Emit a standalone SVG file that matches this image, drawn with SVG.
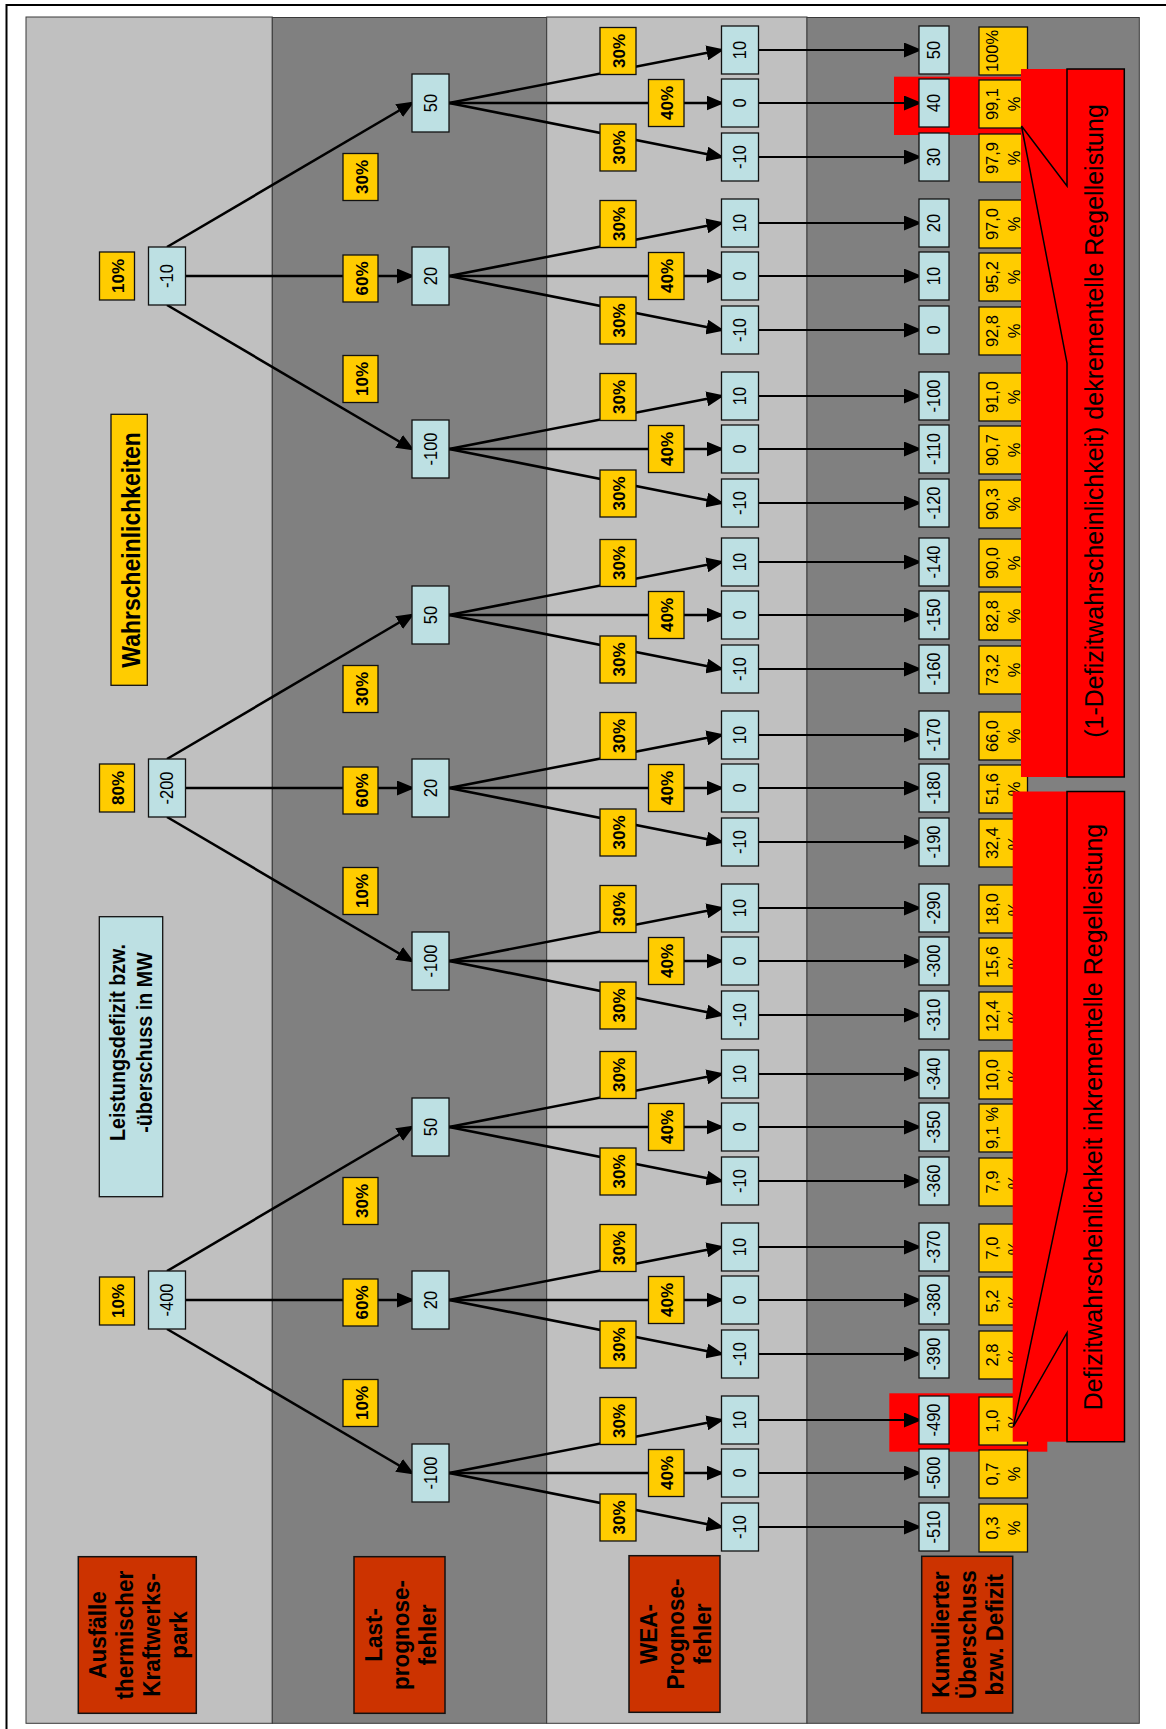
<svg xmlns="http://www.w3.org/2000/svg" width="1166" height="1729" viewBox="0 0 1166 1729">
<defs>
<style>
.pl{fill:#C0C0C0;stroke:#3a3a3a;stroke-width:1}
.pd{fill:#808080;stroke:#3a3a3a;stroke-width:1}
.nb{fill:#BDE0E3;stroke:#111;stroke-width:1.3}
.ny{fill:#FFCC00;stroke:#111;stroke-width:1.3}
.nr{fill:#CC3300;stroke:#111;stroke-width:1.5}
.hl{fill:#FF0000}
.t{font-family:"Liberation Sans",Arial,Helvetica,sans-serif;fill:#000}
.tn{font-size:16.5px;text-anchor:middle}
.tp{font-size:17px;font-weight:bold;text-anchor:middle}
.tq{font-size:16.5px;text-anchor:middle}
.tl{font-size:22.5px;font-weight:bold;text-anchor:middle}
.tc{font-size:25px;text-anchor:middle}
.e line{stroke:#000;stroke-width:2.2;fill:none;marker-end:url(#ah)}
.e line.k{stroke-width:2.6}
</style>
<marker id="ah" markerUnits="userSpaceOnUse" markerWidth="18" markerHeight="15" viewBox="0 0 18 15" refX="15" refY="7.5" orient="auto"><path d="M0,0 L18,7.5 L0,15 Z" fill="#000"/></marker>
</defs>
<rect x="0" y="0" width="1166" height="1729" fill="#FFFFFF"/>
<rect x="6.5" y="5" width="1200" height="1800" fill="none" stroke="#000" stroke-width="2"/>
<g id="panels">
<rect class="pl" x="26" y="17" width="246.3" height="1706.3"/>
<rect class="pd" x="272.3" y="17.5" width="274.4" height="1705.8"/>
<rect class="pl" x="546.7" y="17" width="260.3" height="1706.3"/>
<rect class="pd" x="807" y="17.5" width="332.3" height="1705.8"/>
</g>
<g id="highlights">
<rect class="hl" x="894" y="76.7" width="127" height="58.3"/>
<rect class="hl" x="889.3" y="1393.3" width="158" height="58.4"/>
</g>
<g id="connectors" class="e">
<line class="k" x1="167" y1="247" x2="412" y2="103"/>
<line class="k" x1="185.5" y1="276" x2="412" y2="276"/>
<line class="k" x1="167" y1="305" x2="412" y2="449"/>
<line class="k" x1="167" y1="759" x2="412" y2="615"/>
<line class="k" x1="185.5" y1="788" x2="412" y2="788"/>
<line class="k" x1="167" y1="817" x2="412" y2="961"/>
<line class="k" x1="167" y1="1271" x2="412" y2="1127"/>
<line class="k" x1="185.5" y1="1300" x2="412" y2="1300"/>
<line class="k" x1="167" y1="1329" x2="412" y2="1473"/>
<line class="k" x1="449" y1="103" x2="721.5" y2="50"/><line class="k" x1="449" y1="103" x2="721.5" y2="103"/><line class="k" x1="449" y1="103" x2="721.5" y2="157"/>
<line class="k" x1="449" y1="276" x2="721.5" y2="223"/><line class="k" x1="449" y1="276" x2="721.5" y2="276"/><line class="k" x1="449" y1="276" x2="721.5" y2="330"/>
<line class="k" x1="449" y1="449" x2="721.5" y2="396"/><line class="k" x1="449" y1="449" x2="721.5" y2="449"/><line class="k" x1="449" y1="449" x2="721.5" y2="503"/>
<line class="k" x1="449" y1="615" x2="721.5" y2="562"/><line class="k" x1="449" y1="615" x2="721.5" y2="615"/><line class="k" x1="449" y1="615" x2="721.5" y2="669"/>
<line class="k" x1="449" y1="788" x2="721.5" y2="735"/><line class="k" x1="449" y1="788" x2="721.5" y2="788"/><line class="k" x1="449" y1="788" x2="721.5" y2="842"/>
<line class="k" x1="449" y1="961" x2="721.5" y2="908"/><line class="k" x1="449" y1="961" x2="721.5" y2="961"/><line class="k" x1="449" y1="961" x2="721.5" y2="1015"/>
<line class="k" x1="449" y1="1127" x2="721.5" y2="1074"/><line class="k" x1="449" y1="1127" x2="721.5" y2="1127"/><line class="k" x1="449" y1="1127" x2="721.5" y2="1181"/>
<line class="k" x1="449" y1="1300" x2="721.5" y2="1247"/><line class="k" x1="449" y1="1300" x2="721.5" y2="1300"/><line class="k" x1="449" y1="1300" x2="721.5" y2="1354"/>
<line class="k" x1="449" y1="1473" x2="721.5" y2="1420"/><line class="k" x1="449" y1="1473" x2="721.5" y2="1473"/><line class="k" x1="449" y1="1473" x2="721.5" y2="1527"/>
<line x1="758.5" y1="50" x2="919" y2="50"/><line x1="758.5" y1="103" x2="919" y2="103"/><line x1="758.5" y1="157" x2="919" y2="157"/>
<line x1="758.5" y1="223" x2="919" y2="223"/><line x1="758.5" y1="276" x2="919" y2="276"/><line x1="758.5" y1="330" x2="919" y2="330"/>
<line x1="758.5" y1="396" x2="919" y2="396"/><line x1="758.5" y1="449" x2="919" y2="449"/><line x1="758.5" y1="503" x2="919" y2="503"/>
<line x1="758.5" y1="562" x2="919" y2="562"/><line x1="758.5" y1="615" x2="919" y2="615"/><line x1="758.5" y1="669" x2="919" y2="669"/>
<line x1="758.5" y1="735" x2="919" y2="735"/><line x1="758.5" y1="788" x2="919" y2="788"/><line x1="758.5" y1="842" x2="919" y2="842"/>
<line x1="758.5" y1="908" x2="919" y2="908"/><line x1="758.5" y1="961" x2="919" y2="961"/><line x1="758.5" y1="1015" x2="919" y2="1015"/>
<line x1="758.5" y1="1074" x2="919" y2="1074"/><line x1="758.5" y1="1127" x2="919" y2="1127"/><line x1="758.5" y1="1181" x2="919" y2="1181"/>
<line x1="758.5" y1="1247" x2="919" y2="1247"/><line x1="758.5" y1="1300" x2="919" y2="1300"/><line x1="758.5" y1="1354" x2="919" y2="1354"/>
<line x1="758.5" y1="1420" x2="919" y2="1420"/><line x1="758.5" y1="1473" x2="919" y2="1473"/><line x1="758.5" y1="1527" x2="919" y2="1527"/>
</g>
<g id="level1">
<g id="l1-a"><rect class="nb" x="148.5" y="247" width="37" height="58"/><text class="t tn" transform="translate(167,276) rotate(-90) scale(1,1.1)" y="5.5">-10</text></g>
<g id="l1-b"><rect class="nb" x="148.5" y="759" width="37" height="58"/><text class="t tn" transform="translate(167,788) rotate(-90) scale(1,1.1)" y="5.5">-200</text></g>
<g id="l1-c"><rect class="nb" x="148.5" y="1271" width="37" height="58"/><text class="t tn" transform="translate(167,1300) rotate(-90) scale(1,1.1)" y="5.5">-400</text></g>
<g id="p1-a"><rect class="ny" x="99.5" y="252" width="35" height="48"/><text class="t tp" transform="translate(117,276) rotate(-90)" y="7">10%</text></g>
<g id="p1-b"><rect class="ny" x="99.5" y="764" width="35" height="48"/><text class="t tp" transform="translate(117,788) rotate(-90)" y="7">80%</text></g>
<g id="p1-c"><rect class="ny" x="99.5" y="1277" width="35" height="48"/><text class="t tp" transform="translate(117,1301) rotate(-90)" y="7">10%</text></g>
</g>
<g id="level2">
<g id="l2-1"><rect class="nb" x="412" y="74" width="37" height="58"/><text class="t tn" transform="translate(430.5,103) rotate(-90) scale(1,1.1)" y="5.5">50</text></g>
<g id="l2-2"><rect class="nb" x="412" y="247" width="37" height="58"/><text class="t tn" transform="translate(430.5,276) rotate(-90) scale(1,1.1)" y="5.5">20</text></g>
<g id="l2-3"><rect class="nb" x="412" y="420" width="37" height="58"/><text class="t tn" transform="translate(430.5,449) rotate(-90) scale(1,1.1)" y="5.5">-100</text></g>
<g id="l2-4"><rect class="nb" x="412" y="586" width="37" height="58"/><text class="t tn" transform="translate(430.5,615) rotate(-90) scale(1,1.1)" y="5.5">50</text></g>
<g id="l2-5"><rect class="nb" x="412" y="759" width="37" height="58"/><text class="t tn" transform="translate(430.5,788) rotate(-90) scale(1,1.1)" y="5.5">20</text></g>
<g id="l2-6"><rect class="nb" x="412" y="932" width="37" height="58"/><text class="t tn" transform="translate(430.5,961) rotate(-90) scale(1,1.1)" y="5.5">-100</text></g>
<g id="l2-7"><rect class="nb" x="412" y="1098" width="37" height="58"/><text class="t tn" transform="translate(430.5,1127) rotate(-90) scale(1,1.1)" y="5.5">50</text></g>
<g id="l2-8"><rect class="nb" x="412" y="1271" width="37" height="58"/><text class="t tn" transform="translate(430.5,1300) rotate(-90) scale(1,1.1)" y="5.5">20</text></g>
<g id="l2-9"><rect class="nb" x="412" y="1444" width="37" height="58"/><text class="t tn" transform="translate(430.5,1473) rotate(-90) scale(1,1.1)" y="5.5">-100</text></g>
<g id="p2-1"><rect class="ny" x="343" y="153.5" width="35" height="47"/><text class="t tp" transform="translate(360.5,177) rotate(-90)" y="7">30%</text></g>
<g id="p2-2"><rect class="ny" x="343" y="255" width="35" height="47"/><text class="t tp" transform="translate(360.5,278.5) rotate(-90)" y="7">60%</text></g>
<g id="p2-3"><rect class="ny" x="343" y="355.5" width="35" height="47"/><text class="t tp" transform="translate(360.5,379) rotate(-90)" y="7">10%</text></g>
<g id="p2-4"><rect class="ny" x="343" y="665.5" width="35" height="47"/><text class="t tp" transform="translate(360.5,689) rotate(-90)" y="7">30%</text></g>
<g id="p2-5"><rect class="ny" x="343" y="767" width="35" height="47"/><text class="t tp" transform="translate(360.5,790.5) rotate(-90)" y="7">60%</text></g>
<g id="p2-6"><rect class="ny" x="343" y="867.5" width="35" height="47"/><text class="t tp" transform="translate(360.5,891) rotate(-90)" y="7">10%</text></g>
<g id="p2-7"><rect class="ny" x="343" y="1177.5" width="35" height="47"/><text class="t tp" transform="translate(360.5,1201) rotate(-90)" y="7">30%</text></g>
<g id="p2-8"><rect class="ny" x="343" y="1279" width="35" height="47"/><text class="t tp" transform="translate(360.5,1302.5) rotate(-90)" y="7">60%</text></g>
<g id="p2-9"><rect class="ny" x="343" y="1379.5" width="35" height="47"/><text class="t tp" transform="translate(360.5,1403) rotate(-90)" y="7">10%</text></g>
</g>
<g id="level3">
<g id="l3-01"><rect class="nb" x="721.5" y="26" width="37" height="48"/><text class="t tn" transform="translate(740,50) rotate(-90) scale(1,1.1)" y="5.5">10</text></g>
<g id="l3-02"><rect class="nb" x="721.5" y="79" width="37" height="48"/><text class="t tn" transform="translate(740,103) rotate(-90) scale(1,1.1)" y="5.5">0</text></g>
<g id="l3-03"><rect class="nb" x="721.5" y="133" width="37" height="48"/><text class="t tn" transform="translate(740,157) rotate(-90) scale(1,1.1)" y="5.5">-10</text></g>
<g id="l3-04"><rect class="nb" x="721.5" y="199" width="37" height="48"/><text class="t tn" transform="translate(740,223) rotate(-90) scale(1,1.1)" y="5.5">10</text></g>
<g id="l3-05"><rect class="nb" x="721.5" y="252" width="37" height="48"/><text class="t tn" transform="translate(740,276) rotate(-90) scale(1,1.1)" y="5.5">0</text></g>
<g id="l3-06"><rect class="nb" x="721.5" y="306" width="37" height="48"/><text class="t tn" transform="translate(740,330) rotate(-90) scale(1,1.1)" y="5.5">-10</text></g>
<g id="l3-07"><rect class="nb" x="721.5" y="372" width="37" height="48"/><text class="t tn" transform="translate(740,396) rotate(-90) scale(1,1.1)" y="5.5">10</text></g>
<g id="l3-08"><rect class="nb" x="721.5" y="425" width="37" height="48"/><text class="t tn" transform="translate(740,449) rotate(-90) scale(1,1.1)" y="5.5">0</text></g>
<g id="l3-09"><rect class="nb" x="721.5" y="479" width="37" height="48"/><text class="t tn" transform="translate(740,503) rotate(-90) scale(1,1.1)" y="5.5">-10</text></g>
<g id="l3-10"><rect class="nb" x="721.5" y="538" width="37" height="48"/><text class="t tn" transform="translate(740,562) rotate(-90) scale(1,1.1)" y="5.5">10</text></g>
<g id="l3-11"><rect class="nb" x="721.5" y="591" width="37" height="48"/><text class="t tn" transform="translate(740,615) rotate(-90) scale(1,1.1)" y="5.5">0</text></g>
<g id="l3-12"><rect class="nb" x="721.5" y="645" width="37" height="48"/><text class="t tn" transform="translate(740,669) rotate(-90) scale(1,1.1)" y="5.5">-10</text></g>
<g id="l3-13"><rect class="nb" x="721.5" y="711" width="37" height="48"/><text class="t tn" transform="translate(740,735) rotate(-90) scale(1,1.1)" y="5.5">10</text></g>
<g id="l3-14"><rect class="nb" x="721.5" y="764" width="37" height="48"/><text class="t tn" transform="translate(740,788) rotate(-90) scale(1,1.1)" y="5.5">0</text></g>
<g id="l3-15"><rect class="nb" x="721.5" y="818" width="37" height="48"/><text class="t tn" transform="translate(740,842) rotate(-90) scale(1,1.1)" y="5.5">-10</text></g>
<g id="l3-16"><rect class="nb" x="721.5" y="884" width="37" height="48"/><text class="t tn" transform="translate(740,908) rotate(-90) scale(1,1.1)" y="5.5">10</text></g>
<g id="l3-17"><rect class="nb" x="721.5" y="937" width="37" height="48"/><text class="t tn" transform="translate(740,961) rotate(-90) scale(1,1.1)" y="5.5">0</text></g>
<g id="l3-18"><rect class="nb" x="721.5" y="991" width="37" height="48"/><text class="t tn" transform="translate(740,1015) rotate(-90) scale(1,1.1)" y="5.5">-10</text></g>
<g id="l3-19"><rect class="nb" x="721.5" y="1050" width="37" height="48"/><text class="t tn" transform="translate(740,1074) rotate(-90) scale(1,1.1)" y="5.5">10</text></g>
<g id="l3-20"><rect class="nb" x="721.5" y="1103" width="37" height="48"/><text class="t tn" transform="translate(740,1127) rotate(-90) scale(1,1.1)" y="5.5">0</text></g>
<g id="l3-21"><rect class="nb" x="721.5" y="1157" width="37" height="48"/><text class="t tn" transform="translate(740,1181) rotate(-90) scale(1,1.1)" y="5.5">-10</text></g>
<g id="l3-22"><rect class="nb" x="721.5" y="1223" width="37" height="48"/><text class="t tn" transform="translate(740,1247) rotate(-90) scale(1,1.1)" y="5.5">10</text></g>
<g id="l3-23"><rect class="nb" x="721.5" y="1276" width="37" height="48"/><text class="t tn" transform="translate(740,1300) rotate(-90) scale(1,1.1)" y="5.5">0</text></g>
<g id="l3-24"><rect class="nb" x="721.5" y="1330" width="37" height="48"/><text class="t tn" transform="translate(740,1354) rotate(-90) scale(1,1.1)" y="5.5">-10</text></g>
<g id="l3-25"><rect class="nb" x="721.5" y="1396" width="37" height="48"/><text class="t tn" transform="translate(740,1420) rotate(-90) scale(1,1.1)" y="5.5">10</text></g>
<g id="l3-26"><rect class="nb" x="721.5" y="1449" width="37" height="48"/><text class="t tn" transform="translate(740,1473) rotate(-90) scale(1,1.1)" y="5.5">0</text></g>
<g id="l3-27"><rect class="nb" x="721.5" y="1503" width="37" height="48"/><text class="t tn" transform="translate(740,1527) rotate(-90) scale(1,1.1)" y="5.5">-10</text></g>
</g>
<g id="level3-prob">
<g id="p3-01"><rect class="ny" x="600" y="27.5" width="36" height="47"/><text class="t tp" transform="translate(618,51) rotate(-90)" y="7">30%</text></g>
<g id="p3-02"><rect class="ny" x="648.5" y="79.5" width="35.5" height="47"/><text class="t tp" transform="translate(666.25,103) rotate(-90)" y="7">40%</text></g>
<g id="p3-03"><rect class="ny" x="600" y="124" width="36" height="47"/><text class="t tp" transform="translate(618,147.5) rotate(-90)" y="7">30%</text></g>
<g id="p3-04"><rect class="ny" x="600" y="200.5" width="36" height="47"/><text class="t tp" transform="translate(618,224) rotate(-90)" y="7">30%</text></g>
<g id="p3-05"><rect class="ny" x="648.5" y="252.5" width="35.5" height="47"/><text class="t tp" transform="translate(666.25,276) rotate(-90)" y="7">40%</text></g>
<g id="p3-06"><rect class="ny" x="600" y="297" width="36" height="47"/><text class="t tp" transform="translate(618,320.5) rotate(-90)" y="7">30%</text></g>
<g id="p3-07"><rect class="ny" x="600" y="373.5" width="36" height="47"/><text class="t tp" transform="translate(618,397) rotate(-90)" y="7">30%</text></g>
<g id="p3-08"><rect class="ny" x="648.5" y="425.5" width="35.5" height="47"/><text class="t tp" transform="translate(666.25,449) rotate(-90)" y="7">40%</text></g>
<g id="p3-09"><rect class="ny" x="600" y="470" width="36" height="47"/><text class="t tp" transform="translate(618,493.5) rotate(-90)" y="7">30%</text></g>
<g id="p3-10"><rect class="ny" x="600" y="539.5" width="36" height="47"/><text class="t tp" transform="translate(618,563) rotate(-90)" y="7">30%</text></g>
<g id="p3-11"><rect class="ny" x="648.5" y="591.5" width="35.5" height="47"/><text class="t tp" transform="translate(666.25,615) rotate(-90)" y="7">40%</text></g>
<g id="p3-12"><rect class="ny" x="600" y="636" width="36" height="47"/><text class="t tp" transform="translate(618,659.5) rotate(-90)" y="7">30%</text></g>
<g id="p3-13"><rect class="ny" x="600" y="712.5" width="36" height="47"/><text class="t tp" transform="translate(618,736) rotate(-90)" y="7">30%</text></g>
<g id="p3-14"><rect class="ny" x="648.5" y="764.5" width="35.5" height="47"/><text class="t tp" transform="translate(666.25,788) rotate(-90)" y="7">40%</text></g>
<g id="p3-15"><rect class="ny" x="600" y="809" width="36" height="47"/><text class="t tp" transform="translate(618,832.5) rotate(-90)" y="7">30%</text></g>
<g id="p3-16"><rect class="ny" x="600" y="885.5" width="36" height="47"/><text class="t tp" transform="translate(618,909) rotate(-90)" y="7">30%</text></g>
<g id="p3-17"><rect class="ny" x="648.5" y="937.5" width="35.5" height="47"/><text class="t tp" transform="translate(666.25,961) rotate(-90)" y="7">40%</text></g>
<g id="p3-18"><rect class="ny" x="600" y="982" width="36" height="47"/><text class="t tp" transform="translate(618,1005.5) rotate(-90)" y="7">30%</text></g>
<g id="p3-19"><rect class="ny" x="600" y="1051.5" width="36" height="47"/><text class="t tp" transform="translate(618,1075) rotate(-90)" y="7">30%</text></g>
<g id="p3-20"><rect class="ny" x="648.5" y="1103.5" width="35.5" height="47"/><text class="t tp" transform="translate(666.25,1127) rotate(-90)" y="7">40%</text></g>
<g id="p3-21"><rect class="ny" x="600" y="1148" width="36" height="47"/><text class="t tp" transform="translate(618,1171.5) rotate(-90)" y="7">30%</text></g>
<g id="p3-22"><rect class="ny" x="600" y="1224.5" width="36" height="47"/><text class="t tp" transform="translate(618,1248) rotate(-90)" y="7">30%</text></g>
<g id="p3-23"><rect class="ny" x="648.5" y="1276.5" width="35.5" height="47"/><text class="t tp" transform="translate(666.25,1300) rotate(-90)" y="7">40%</text></g>
<g id="p3-24"><rect class="ny" x="600" y="1321" width="36" height="47"/><text class="t tp" transform="translate(618,1344.5) rotate(-90)" y="7">30%</text></g>
<g id="p3-25"><rect class="ny" x="600" y="1397.5" width="36" height="47"/><text class="t tp" transform="translate(618,1421) rotate(-90)" y="7">30%</text></g>
<g id="p3-26"><rect class="ny" x="648.5" y="1449.5" width="35.5" height="47"/><text class="t tp" transform="translate(666.25,1473) rotate(-90)" y="7">40%</text></g>
<g id="p3-27"><rect class="ny" x="600" y="1494" width="36" height="47"/><text class="t tp" transform="translate(618,1517.5) rotate(-90)" y="7">30%</text></g>
</g>
<g id="level4">
<g id="l4-01"><rect class="nb" x="919" y="26" width="30" height="48"/><text class="t tn" transform="translate(934,50) rotate(-90) scale(1,1.1)" y="5.5">50</text></g>
<g id="l4-02"><rect class="nb" x="919" y="79" width="30" height="48"/><text class="t tn" transform="translate(934,103) rotate(-90) scale(1,1.1)" y="5.5">40</text></g>
<g id="l4-03"><rect class="nb" x="919" y="133" width="30" height="48"/><text class="t tn" transform="translate(934,157) rotate(-90) scale(1,1.1)" y="5.5">30</text></g>
<g id="l4-04"><rect class="nb" x="919" y="199" width="30" height="48"/><text class="t tn" transform="translate(934,223) rotate(-90) scale(1,1.1)" y="5.5">20</text></g>
<g id="l4-05"><rect class="nb" x="919" y="252" width="30" height="48"/><text class="t tn" transform="translate(934,276) rotate(-90) scale(1,1.1)" y="5.5">10</text></g>
<g id="l4-06"><rect class="nb" x="919" y="306" width="30" height="48"/><text class="t tn" transform="translate(934,330) rotate(-90) scale(1,1.1)" y="5.5">0</text></g>
<g id="l4-07"><rect class="nb" x="919" y="372" width="30" height="48"/><text class="t tn" transform="translate(934,396) rotate(-90) scale(1,1.1)" y="5.5">-100</text></g>
<g id="l4-08"><rect class="nb" x="919" y="425" width="30" height="48"/><text class="t tn" transform="translate(934,449) rotate(-90) scale(1,1.1)" y="5.5">-110</text></g>
<g id="l4-09"><rect class="nb" x="919" y="479" width="30" height="48"/><text class="t tn" transform="translate(934,503) rotate(-90) scale(1,1.1)" y="5.5">-120</text></g>
<g id="l4-10"><rect class="nb" x="919" y="538" width="30" height="48"/><text class="t tn" transform="translate(934,562) rotate(-90) scale(1,1.1)" y="5.5">-140</text></g>
<g id="l4-11"><rect class="nb" x="919" y="591" width="30" height="48"/><text class="t tn" transform="translate(934,615) rotate(-90) scale(1,1.1)" y="5.5">-150</text></g>
<g id="l4-12"><rect class="nb" x="919" y="645" width="30" height="48"/><text class="t tn" transform="translate(934,669) rotate(-90) scale(1,1.1)" y="5.5">-160</text></g>
<g id="l4-13"><rect class="nb" x="919" y="711" width="30" height="48"/><text class="t tn" transform="translate(934,735) rotate(-90) scale(1,1.1)" y="5.5">-170</text></g>
<g id="l4-14"><rect class="nb" x="919" y="764" width="30" height="48"/><text class="t tn" transform="translate(934,788) rotate(-90) scale(1,1.1)" y="5.5">-180</text></g>
<g id="l4-15"><rect class="nb" x="919" y="818" width="30" height="48"/><text class="t tn" transform="translate(934,842) rotate(-90) scale(1,1.1)" y="5.5">-190</text></g>
<g id="l4-16"><rect class="nb" x="919" y="884" width="30" height="48"/><text class="t tn" transform="translate(934,908) rotate(-90) scale(1,1.1)" y="5.5">-290</text></g>
<g id="l4-17"><rect class="nb" x="919" y="937" width="30" height="48"/><text class="t tn" transform="translate(934,961) rotate(-90) scale(1,1.1)" y="5.5">-300</text></g>
<g id="l4-18"><rect class="nb" x="919" y="991" width="30" height="48"/><text class="t tn" transform="translate(934,1015) rotate(-90) scale(1,1.1)" y="5.5">-310</text></g>
<g id="l4-19"><rect class="nb" x="919" y="1050" width="30" height="48"/><text class="t tn" transform="translate(934,1074) rotate(-90) scale(1,1.1)" y="5.5">-340</text></g>
<g id="l4-20"><rect class="nb" x="919" y="1103" width="30" height="48"/><text class="t tn" transform="translate(934,1127) rotate(-90) scale(1,1.1)" y="5.5">-350</text></g>
<g id="l4-21"><rect class="nb" x="919" y="1157" width="30" height="48"/><text class="t tn" transform="translate(934,1181) rotate(-90) scale(1,1.1)" y="5.5">-360</text></g>
<g id="l4-22"><rect class="nb" x="919" y="1223" width="30" height="48"/><text class="t tn" transform="translate(934,1247) rotate(-90) scale(1,1.1)" y="5.5">-370</text></g>
<g id="l4-23"><rect class="nb" x="919" y="1276" width="30" height="48"/><text class="t tn" transform="translate(934,1300) rotate(-90) scale(1,1.1)" y="5.5">-380</text></g>
<g id="l4-24"><rect class="nb" x="919" y="1330" width="30" height="48"/><text class="t tn" transform="translate(934,1354) rotate(-90) scale(1,1.1)" y="5.5">-390</text></g>
<g id="l4-25"><rect class="nb" x="919" y="1396" width="30" height="48"/><text class="t tn" transform="translate(934,1420) rotate(-90) scale(1,1.1)" y="5.5">-490</text></g>
<g id="l4-26"><rect class="nb" x="919" y="1449" width="30" height="48"/><text class="t tn" transform="translate(934,1473) rotate(-90) scale(1,1.1)" y="5.5">-500</text></g>
<g id="l4-27"><rect class="nb" x="919" y="1503" width="30" height="48"/><text class="t tn" transform="translate(934,1527) rotate(-90) scale(1,1.1)" y="5.5">-510</text></g>
</g>
<g id="cumulative">
<g id="c-01"><rect class="ny" x="979" y="27" width="48.5" height="48"/><text class="t tq" transform="translate(1003.25,51) rotate(-90)" y="-5">100%</text></g>
<g id="c-02"><rect class="ny" x="979" y="80" width="48.5" height="48"/><text class="t tq" transform="translate(1003.25,104) rotate(-90)"><tspan x="0" y="-5">99,1</tspan><tspan x="0" y="17">%</tspan></text></g>
<g id="c-03"><rect class="ny" x="979" y="134" width="48.5" height="48"/><text class="t tq" transform="translate(1003.25,158) rotate(-90)"><tspan x="0" y="-5">97,9</tspan><tspan x="0" y="17">%</tspan></text></g>
<g id="c-04"><rect class="ny" x="979" y="200" width="48.5" height="48"/><text class="t tq" transform="translate(1003.25,224) rotate(-90)"><tspan x="0" y="-5">97,0</tspan><tspan x="0" y="17">%</tspan></text></g>
<g id="c-05"><rect class="ny" x="979" y="253" width="48.5" height="48"/><text class="t tq" transform="translate(1003.25,277) rotate(-90)"><tspan x="0" y="-5">95,2</tspan><tspan x="0" y="17">%</tspan></text></g>
<g id="c-06"><rect class="ny" x="979" y="307" width="48.5" height="48"/><text class="t tq" transform="translate(1003.25,331) rotate(-90)"><tspan x="0" y="-5">92,8</tspan><tspan x="0" y="17">%</tspan></text></g>
<g id="c-07"><rect class="ny" x="979" y="373" width="48.5" height="48"/><text class="t tq" transform="translate(1003.25,397) rotate(-90)"><tspan x="0" y="-5">91,0</tspan><tspan x="0" y="17">%</tspan></text></g>
<g id="c-08"><rect class="ny" x="979" y="426" width="48.5" height="48"/><text class="t tq" transform="translate(1003.25,450) rotate(-90)"><tspan x="0" y="-5">90,7</tspan><tspan x="0" y="17">%</tspan></text></g>
<g id="c-09"><rect class="ny" x="979" y="480" width="48.5" height="48"/><text class="t tq" transform="translate(1003.25,504) rotate(-90)"><tspan x="0" y="-5">90,3</tspan><tspan x="0" y="17">%</tspan></text></g>
<g id="c-10"><rect class="ny" x="979" y="539" width="48.5" height="48"/><text class="t tq" transform="translate(1003.25,563) rotate(-90)"><tspan x="0" y="-5">90,0</tspan><tspan x="0" y="17">%</tspan></text></g>
<g id="c-11"><rect class="ny" x="979" y="592" width="48.5" height="48"/><text class="t tq" transform="translate(1003.25,616) rotate(-90)"><tspan x="0" y="-5">82,8</tspan><tspan x="0" y="17">%</tspan></text></g>
<g id="c-12"><rect class="ny" x="979" y="646" width="48.5" height="48"/><text class="t tq" transform="translate(1003.25,670) rotate(-90)"><tspan x="0" y="-5">73,2</tspan><tspan x="0" y="17">%</tspan></text></g>
<g id="c-13"><rect class="ny" x="979" y="712" width="48.5" height="48"/><text class="t tq" transform="translate(1003.25,736) rotate(-90)"><tspan x="0" y="-5">66,0</tspan><tspan x="0" y="17">%</tspan></text></g>
<g id="c-14"><rect class="ny" x="979" y="765" width="48.5" height="48"/><text class="t tq" transform="translate(1003.25,789) rotate(-90)"><tspan x="0" y="-5">51,6</tspan><tspan x="0" y="17">%</tspan></text></g>
<g id="c-15"><rect class="ny" x="979" y="819" width="48.5" height="48"/><text class="t tq" transform="translate(1003.25,843) rotate(-90)"><tspan x="0" y="-5">32,4</tspan><tspan x="0" y="17">%</tspan></text></g>
<g id="c-16"><rect class="ny" x="979" y="885" width="48.5" height="48"/><text class="t tq" transform="translate(1003.25,909) rotate(-90)"><tspan x="0" y="-5">18,0</tspan><tspan x="0" y="17">%</tspan></text></g>
<g id="c-17"><rect class="ny" x="979" y="938" width="48.5" height="48"/><text class="t tq" transform="translate(1003.25,962) rotate(-90)"><tspan x="0" y="-5">15,6</tspan><tspan x="0" y="17">%</tspan></text></g>
<g id="c-18"><rect class="ny" x="979" y="992" width="48.5" height="48"/><text class="t tq" transform="translate(1003.25,1016) rotate(-90)"><tspan x="0" y="-5">12,4</tspan><tspan x="0" y="17">%</tspan></text></g>
<g id="c-19"><rect class="ny" x="979" y="1051" width="48.5" height="48"/><text class="t tq" transform="translate(1003.25,1075) rotate(-90)"><tspan x="0" y="-5">10,0</tspan><tspan x="0" y="17">%</tspan></text></g>
<g id="c-20"><rect class="ny" x="979" y="1104" width="48.5" height="48"/><text class="t tq" transform="translate(1003.25,1128) rotate(-90)" y="-5">9,1 %</text></g>
<g id="c-21"><rect class="ny" x="979" y="1158" width="48.5" height="48"/><text class="t tq" transform="translate(1003.25,1182) rotate(-90)"><tspan x="0" y="-5">7,9</tspan><tspan x="0" y="17">%</tspan></text></g>
<g id="c-22"><rect class="ny" x="979" y="1224" width="48.5" height="48"/><text class="t tq" transform="translate(1003.25,1248) rotate(-90)"><tspan x="0" y="-5">7,0</tspan><tspan x="0" y="17">%</tspan></text></g>
<g id="c-23"><rect class="ny" x="979" y="1277" width="48.5" height="48"/><text class="t tq" transform="translate(1003.25,1301) rotate(-90)"><tspan x="0" y="-5">5,2</tspan><tspan x="0" y="17">%</tspan></text></g>
<g id="c-24"><rect class="ny" x="979" y="1331" width="48.5" height="48"/><text class="t tq" transform="translate(1003.25,1355) rotate(-90)"><tspan x="0" y="-5">2,8</tspan><tspan x="0" y="17">%</tspan></text></g>
<g id="c-25"><rect class="ny" x="979" y="1397" width="48.5" height="48"/><text class="t tq" transform="translate(1003.25,1421) rotate(-90)"><tspan x="0" y="-5">1,0</tspan><tspan x="0" y="17">%</tspan></text></g>
<g id="c-26"><rect class="ny" x="979" y="1450" width="48.5" height="48"/><text class="t tq" transform="translate(1003.25,1474) rotate(-90)"><tspan x="0" y="-5">0,7</tspan><tspan x="0" y="17">%</tspan></text></g>
<g id="c-27"><rect class="ny" x="979" y="1504" width="48.5" height="48"/><text class="t tq" transform="translate(1003.25,1528) rotate(-90)"><tspan x="0" y="-5">0,3</tspan><tspan x="0" y="17">%</tspan></text></g>
</g>
<g id="callout-upper">
<rect class="hl" x="1021" y="69" width="46" height="708"/>
<path d="M1067,69 H1124.3 V777 H1067 V363 L1021.5,126 L1067,186 Z" fill="#FF0000" stroke="#000" stroke-width="1.5"/>
<text class="t tc" transform="translate(1102.5,421) rotate(-90)">(1-Defizitwahrscheinlichkeit) dekrementelle Regelleistung</text>
</g>
<g id="callout-lower">
<rect class="hl" x="1012.7" y="791.5" width="54.3" height="650.2"/>
<path d="M1067,791.5 H1124.5 V1441.7 H1067 V1332.7 L1013.3,1426.7 L1067,1170.7 Z" fill="#FF0000" stroke="#000" stroke-width="1.5"/>
<text class="t tc" transform="translate(1102,1117) rotate(-90)">Defizitwahrscheinlichkeit inkrementelle Regelleistung</text>
</g>
<g id="legend-prob">
<rect class="ny" x="111" y="414.3" width="36.3" height="271"/>
<text class="t" font-size="23" font-weight="bold" text-anchor="middle" transform="translate(129.2,550) rotate(-90) scale(1,1.1)" y="9.8">Wahrscheinlichkeiten</text>
</g>
<g id="legend-value">
<rect class="nb" x="99.3" y="916.7" width="63.4" height="280"/>
<text class="t" font-size="19.7" font-weight="bold" text-anchor="middle" transform="translate(131,1042.5) rotate(-90) scale(1,1.1)"><tspan x="0" y="-5.5">Leistungsdefizit bzw.</tspan><tspan x="0" y="18.8">-überschuss in MW</tspan></text>
</g>
<g id="label-1">
<rect class="nr" x="78.3" y="1556.7" width="118" height="156.6"/>
<text class="t tl" transform="translate(137,1635) rotate(-90) scale(1,1.1)"><tspan x="0" y="-28.2">Ausfälle</tspan><tspan x="0" y="-3.6">thermischer</tspan><tspan x="0" y="20.9">Kraftwerks-</tspan><tspan x="0" y="45.5">park</tspan></text>
</g>
<g id="label-2">
<rect class="nr" x="354" y="1556.7" width="91" height="156.6"/>
<text class="t tl" transform="translate(399.5,1635) rotate(-90) scale(1,1.1)"><tspan x="0" y="-16.2">Last-</tspan><tspan x="0" y="8.4">prognose-</tspan><tspan x="0" y="32.9">fehler</tspan></text>
</g>
<g id="label-3">
<rect class="nr" x="629" y="1555.7" width="91" height="156.6"/>
<text class="t tl" transform="translate(674.5,1634) rotate(-90) scale(1,1.1)"><tspan x="0" y="-16.2">WEA-</tspan><tspan x="0" y="8.4">Prognose-</tspan><tspan x="0" y="32.9">fehler</tspan></text>
</g>
<g id="label-4">
<rect class="nr" x="921.7" y="1556.3" width="91" height="156.7"/>
<text class="t tl" transform="translate(967.2,1634.7) rotate(-90) scale(1,1.1)"><tspan x="0" y="-16.2">Kumulierter</tspan><tspan x="0" y="8.4">Überschuss</tspan><tspan x="0" y="32.9">bzw. Defizit</tspan></text>
</g>
</svg>
